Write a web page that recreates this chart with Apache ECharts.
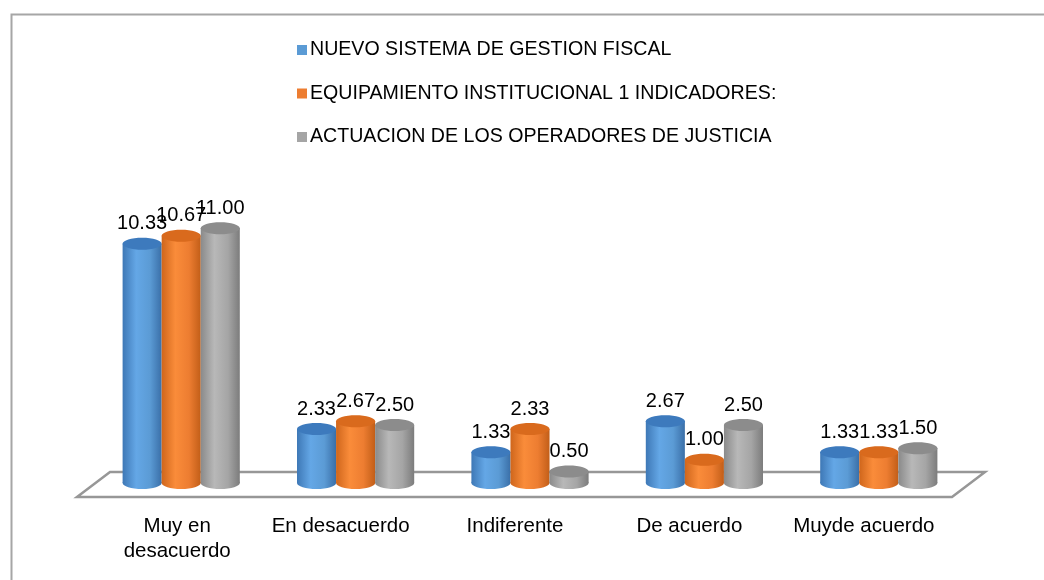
<!DOCTYPE html>
<html>
<head>
<meta charset="utf-8">
<script src="https://cdn.jsdelivr.net/npm/echarts@6/dist/echarts.min.js"></script>
<style>
html, body { margin: 0; padding: 0; background: #fff; }
#main { width: 1044px; height: 580px; }
</style>
</head>
<body>
<div id="main"></div>
<script>
var myChart = echarts.init(document.getElementById('main'));

var categories = ['Muy en\ndesacuerdo', 'En desacuerdo', 'Indiferente', 'De acuerdo', 'Muyde acuerdo'];
var seriesNames = ['NUEVO SISTEMA DE GESTION FISCAL', 'EQUIPAMIENTO INSTITUCIONAL 1 INDICADORES:', 'ACTUACION DE LOS OPERADORES DE JUSTICIA'];
var nuevo = [10.33, 2.33, 1.33, 2.67, 1.33];
var equipamiento = [10.67, 2.67, 2.33, 1.00, 1.33];
var actuacion = [11.00, 2.50, 0.50, 2.50, 1.50];

var FONT = "'Liberation Sans Narrow', 'Liberation Sans', Arial, sans-serif";

// colores de cada cilindro: borde izq, brillo, borde der, tapa
var palette = [
	{ base: '#5B9BD5', left: '#3E78B6', light: '#64A7E6', right: '#3A6FA8', top: '#3D7ABD' },
	{ base: '#ED7D31', left: '#CF661C', light: '#FA8C3A', right: '#C25E18', top: '#D96A1D' },
	{ base: '#A5A5A5', left: '#8A8A8A', light: '#B8B8B8', right: '#7C7C7C', top: '#8C8C8C' }
];

function toData(arr) {
	var out = [];
	for (var i = 0; i < arr.length; i++) {
		out.push([i, arr[i]]);
	}
	return out;
}

function renderCylinder(params, api) {
	var c = palette[params.seriesIndex];
	var v = api.value(1);
	var band = api.size([1, 0])[0];
	var w = band * 0.224;
	var base = api.coord([api.value(0), 0]);
	var top = api.coord([api.value(0), v]);
	var cx = base[0] + (params.seriesIndex - 1) * w;
	var rx = w / 2, ry = 6;
	var grad = new echarts.graphic.LinearGradient(0, 0, 1, 0, [
		{ offset: 0, color: c.left },
		{ offset: 0.35, color: c.light },
		{ offset: 0.7, color: c.base },
		{ offset: 1, color: c.right }
	]);
	return {
		type: 'group',
		children: [
			{ type: 'ellipse', shape: { cx: cx, cy: base[1], rx: rx, ry: ry }, style: { fill: grad } },
			{ type: 'rect', shape: { x: cx - rx, y: top[1], width: w, height: base[1] - top[1] }, style: { fill: grad } },
			{ type: 'ellipse', shape: { cx: cx, cy: top[1], rx: rx, ry: ry }, style: { fill: c.top } },
			{
				type: 'text',
				style: {
					x: cx, y: top[1] - ry - 4,
					text: v.toFixed(2),
					align: 'center', verticalAlign: 'bottom',
					font: '20px ' + FONT, fill: '#000'
				}
			}
		]
	};
}

function renderFloor(params, api) {
	var cs = params.coordSys;
	var y0 = api.coord([0, 0])[1];
	var left = cs.x, right = cs.x + cs.width;
	return {
		type: 'polygon',
		shape: { points: [
			[left + 16, y0 - 11], [right + 19, y0 - 11],
			[right - 14, y0 + 14], [left - 17, y0 + 14]
		] },
		style: { fill: 'none', stroke: '#979797', lineWidth: 2.5 }
	};
}

var series = [];
var values = [nuevo, equipamiento, actuacion];
for (var s = 0; s < 3; s++) {
	series.push({
		name: seriesNames[s],
		type: 'custom',
		renderItem: renderCylinder,
		itemStyle: { color: palette[s].base },
		encode: { x: 0, y: 1 },
		data: toData(values[s]),
		z: 3
	});
}
series.push({
	name: 'piso',
	type: 'custom',
	renderItem: renderFloor,
	encode: { x: 0, y: 1 },
	data: [[0, 0]],
	silent: true,
	z: 1
});

// la primera etiqueta (dos lineas) casi no se corre a la izquierda
var axisData = categories.map(function (name, i) {
	return {
		value: name,
		textStyle: { padding: i === 0 ? [0, 8, 0, 0] : [0, 30, 0, 0] }
	};
});

var option = {
	animation: false,
	graphic: [{
		type: 'rect',
		left: 9, top: 12,
		shape: { width: 1100, height: 620 },
		style: { fill: 'none', stroke: '#A6A6A6', lineWidth: 2 },
		silent: true
	}],
	legend: {
		orient: 'vertical',
		left: 292, top: 35,
		itemWidth: 10, itemHeight: 10,
		itemGap: 23.5,
		icon: 'rect',
		data: seriesNames,
		textStyle: { fontFamily: FONT, fontSize: 19.6, color: '#000', padding: [0, 0, 0, -2] }
	},
	grid: { left: 94, right: 78, top: 205, bottom: 97 },
	xAxis: {
		type: 'category',
		data: axisData,
		axisLine: { show: false },
		axisTick: { show: false },
		axisLabel: {
			interval: 0,
			margin: 31,
			fontFamily: FONT, fontSize: 20.5, color: '#000',
			lineHeight: 25
		}
	},
	yAxis: {
		type: 'value',
		min: 0, max: 12,
		show: false
	},
	series: series
};

myChart.setOption(option);
</script>
</body>
</html>
